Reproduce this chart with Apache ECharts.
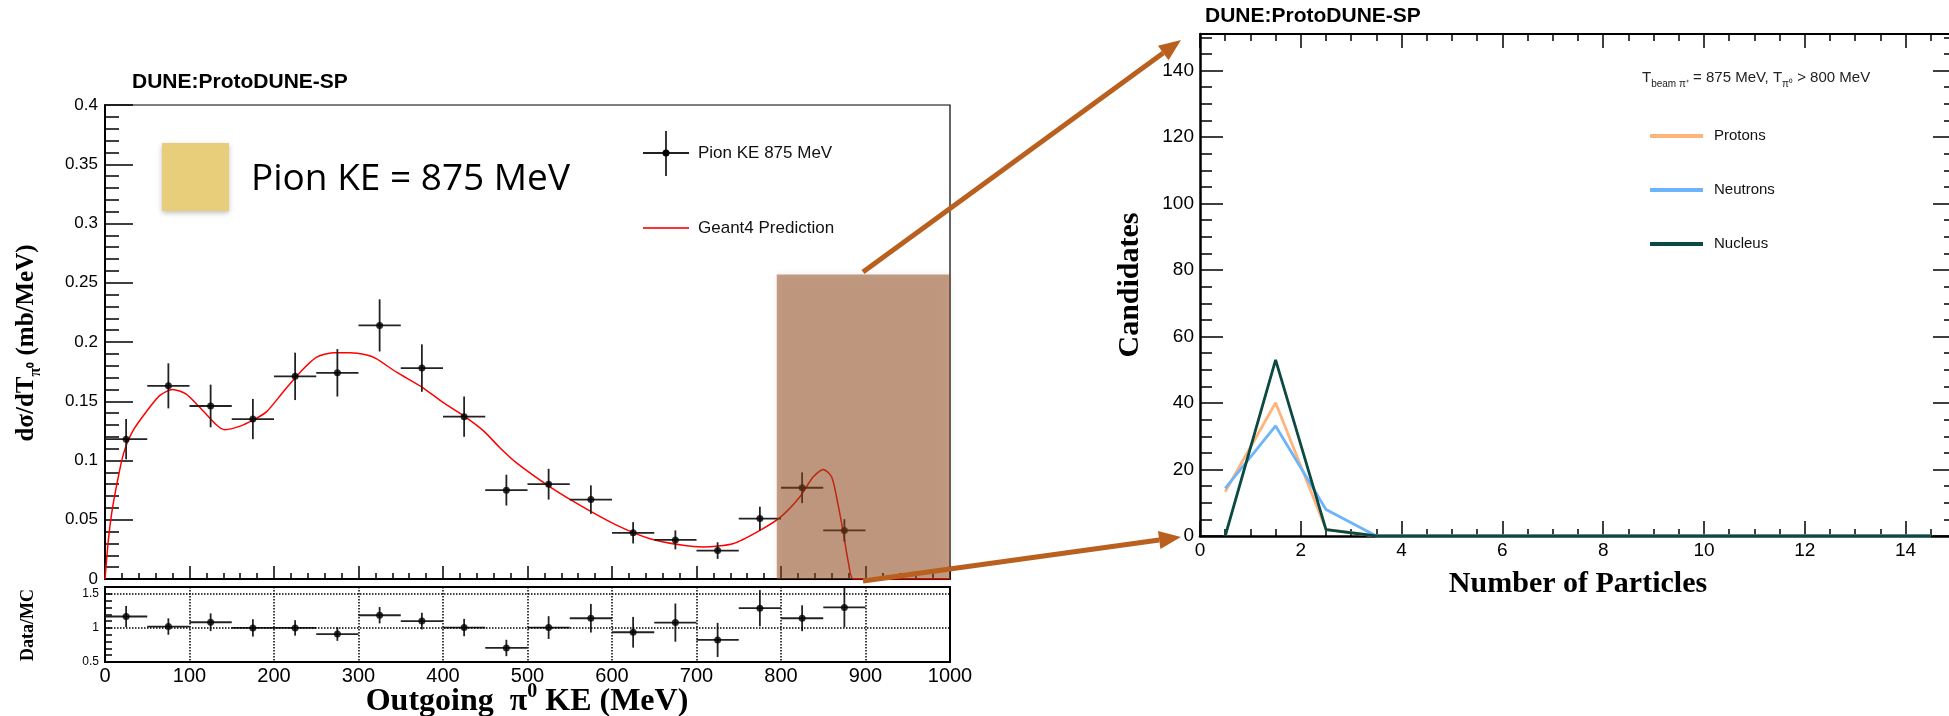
<!DOCTYPE html>
<html>
<head>
<meta charset="utf-8">
<title>ProtoDUNE-SP pi0 KE</title>
<script src="https://cdn.jsdelivr.net/npm/echarts@6.0.0/dist/echarts.min.js"></script>
<style>
  html, body { margin: 0; padding: 0; background: #fff; }
  #main { width: 1949px; height: 716px; }
</style>
</head>
<body>
<div id="main"></div>
<script>
// 左图：截面数据点 (bin 中心, MeV)
var keBins = [25, 75, 125, 175, 225, 275, 325, 375, 425, 475, 525, 575, 625, 675, 725, 775, 825, 875];
var xsecValues = [0.118, 0.163, 0.146, 0.135, 0.171, 0.174, 0.214, 0.178, 0.137, 0.075, 0.080, 0.067, 0.039, 0.033, 0.024, 0.051, 0.077, 0.041];
var xsecErrors = [0.017, 0.019, 0.018, 0.017, 0.020, 0.020, 0.022, 0.020, 0.017, 0.013, 0.013, 0.012, 0.009, 0.008, 0.007, 0.010, 0.013, 0.0095];
var binHalfWidth = 25;

// Geant4 预测曲线
var g4KE = [0, 4, 8, 14, 22, 33, 53, 65, 80, 96, 112, 132, 142, 160, 175, 191, 211, 231, 250, 270, 290, 310, 321, 345, 375, 400, 425, 448, 467, 487, 527, 566, 606, 645, 684, 708, 744, 775, 799, 822, 838, 850, 860, 868, 874, 880, 886, 1000];
var g4Values = [0, 0.033, 0.056, 0.080, 0.106, 0.125, 0.145, 0.155, 0.160, 0.156, 0.145, 0.130, 0.126, 0.129, 0.134, 0.141, 0.158, 0.1745, 0.187, 0.191, 0.191, 0.189, 0.186, 0.1745, 0.162, 0.149, 0.1375, 0.125, 0.111, 0.098, 0.0776, 0.0607, 0.0453, 0.034, 0.0284, 0.027, 0.030, 0.041, 0.052, 0.069, 0.086, 0.0925, 0.086, 0.061, 0.038, 0.013, 0, 0];

// Data/MC
var ratioValues = [1.167, 1.02, 1.083, 1.0, 1.0, 0.91, 1.186, 1.10, 1.005, 0.706, 1.005, 1.142, 0.936, 1.078, 0.824, 1.29, 1.142, 1.30];
var ratioErrors = [0.155, 0.12, 0.13, 0.127, 0.113, 0.10, 0.12, 0.122, 0.127, 0.12, 0.167, 0.21, 0.225, 0.28, 0.25, 0.265, 0.19, 0.29];
var ratioRefLines = [1, 1.5];

// 右图：粒子数分布
var nParticles = [0.5, 1.5, 2.5, 3.5, 4.5, 5.5, 6.5, 7.5, 8.5, 9.5, 10.5, 11.5, 12.5, 13.5, 14.5];
var protonCounts = [13.3, 40.1, 2.0, 0, 0, 0, 0, 0, 0, 0, 0, 0, 0, 0, 0];
var neutronCounts = [14.3, 33.1, 8.0, 0, 0, 0, 0, 0, 0, 0, 0, 0, 0, 0, 0];
var nucleusCounts = [0, 53.0, 1.9, 0, 0, 0, 0, 0, 0, 0, 0, 0, 0, 0, 0];

// 棕色高亮区域 (数据坐标)
var boxKE = [795, 1000];
var boxXsec = [0, 0.257];

var SANS = "'Liberation Sans', Arial, Helvetica, sans-serif";
var SERIF = "'Liberation Serif', 'Times New Roman', serif";
var ARROW = '#b9601f';

function zip(a, b) {
    return a.map(function (v, i) { return [v, b[i]]; });
}

function renderErr(params, api) {
    var x = api.value(0), y = api.value(1), e = api.value(2);
    var l = api.coord([x - binHalfWidth, y]);
    var r = api.coord([x + binHalfWidth, y]);
    var t = api.coord([x, y + e]);
    var b = api.coord([x, y - e]);
    var st = { stroke: '#222', lineWidth: 1.8 };
    return {
        type: 'group',
        children: [
            { type: 'line', shape: { x1: l[0], y1: l[1], x2: r[0], y2: r[1] }, style: st },
            { type: 'line', shape: { x1: t[0], y1: t[1], x2: b[0], y2: b[1] }, style: st }
        ]
    };
}

function arrowShapes(x1, y1, x2, y2) {
    var ang = Math.atan2(y2 - y1, x2 - x1), L = 22, W = 9;
    var bx = x2 - L * Math.cos(ang), by = y2 - L * Math.sin(ang);
    var px = -Math.sin(ang) * W, py = Math.cos(ang) * W;
    return [
        { type: 'line', z: 100, shape: { x1: x1, y1: y1, x2: bx, y2: by }, style: { stroke: ARROW, lineWidth: 5 } },
        { type: 'polygon', z: 100, shape: { points: [[x2, y2], [bx + px, by + py], [bx - px, by - py]] }, style: { fill: ARROW } }
    ];
}

function axisBase(extra) {
    var base = {
        type: 'value',
        axisLine: { show: true, onZero: false, lineStyle: { color: '#000', width: 2 } },
        axisTick: { show: true, inside: true, lineStyle: { color: '#000', width: 1.5 } },
        minorTick: { show: true, lineStyle: { color: '#000', width: 1.5 } },
        axisLabel: { color: '#000', fontFamily: SANS, formatter: function (v) { return String(v); } },
        splitLine: { show: false }
    };
    return echarts.util.merge(base, extra, true);
}

function drawChart() {
    var chartDom = document.getElementById('main');
    var myChart = echarts.init(chartDom);
    var option;

    option = {
        backgroundColor: '#fff',
        animation: false,
        grid: [
            { left: 105, top: 105, width: 845, height: 474, show: true, borderColor: '#000', borderWidth: 1.2, outerBoundsMode: 'none' },
            { left: 105, top: 587, width: 845, height: 75, show: true, borderColor: '#000', borderWidth: 2, outerBoundsMode: 'none' },
            { left: 1200, top: 34, width: 756, height: 502, outerBoundsMode: 'none' }
        ],
        xAxis: [
            axisBase({ gridIndex: 0, min: 0, max: 1000, interval: 100,
                axisTick: { length: 13 }, minorTick: { splitNumber: 5, length: 6 },
                axisLabel: { show: false } }),
            axisBase({ gridIndex: 1, min: 0, max: 1000, interval: 100,
                axisTick: { show: false }, minorTick: { show: false },
                axisLabel: { fontSize: 20, margin: 4 },
                splitLine: { show: true, lineStyle: { type: 'dotted', color: '#000', width: 1.5 } } }),
            axisBase({ gridIndex: 2, min: 0, max: 15, interval: 2,
                axisLine: { lineStyle: { width: 2.5 } },
                axisTick: { length: 15 }, minorTick: { splitNumber: 4, length: 7 },
                axisLabel: { fontSize: 19, margin: 5, showMaxLabel: false } }),
            axisBase({ gridIndex: 2, position: 'top', min: 0, max: 15, interval: 2,
                axisTick: { length: 14 }, minorTick: { splitNumber: 4, length: 7 },
                axisLabel: { show: false } })
        ],
        yAxis: [
            axisBase({ gridIndex: 0, min: 0, max: 0.4, interval: 0.05,
                axisTick: { length: 28 }, minorTick: { splitNumber: 5, length: 14 },
                axisLabel: { fontSize: 17, margin: 7 } }),
            axisBase({ gridIndex: 1, min: 0.5, max: 1.6, interval: 0.1,
                axisTick: { length: 7 }, minorTick: { show: false },
                axisLabel: { fontSize: 12, margin: 6, formatter: function (v) {
                    if (Math.abs(v - 0.5) < 1e-6) return '0.5';
                    if (Math.abs(v - 1) < 1e-6) return '1';
                    if (Math.abs(v - 1.5) < 1e-6) return '1.5';
                    return '';
                } } }),
            axisBase({ gridIndex: 2, min: 0, max: 151, interval: 20,
                axisLine: { lineStyle: { width: 2.5 } },
                axisTick: { length: 23 }, minorTick: { splitNumber: 4, length: 12 },
                axisLabel: { fontSize: 19, margin: 6, showMaxLabel: false } }),
            axisBase({ gridIndex: 2, position: 'right', min: 0, max: 151, interval: 20,
                axisTick: { length: 23 }, minorTick: { splitNumber: 4, length: 12 },
                axisLabel: { show: false } })
        ],
        legend: {
            orient: 'vertical', left: 1645, top: 121,
            itemWidth: 53, itemHeight: 4, itemGap: 34, icon: 'rect',
            selectedMode: false,
            data: ['Protons', 'Neutrons', 'Nucleus'],
            textStyle: { fontSize: 15, fontFamily: SANS, color: '#111', lineHeight: 20, padding: [0, 0, 0, 6] }
        },
        series: [
            {
                name: 'Geant4 Prediction', type: 'line', xAxisIndex: 0, yAxisIndex: 0,
                data: zip(g4KE, g4Values), showSymbol: false, smooth: 0.25,
                lineStyle: { color: '#ff0000', width: 1.5 }, itemStyle: { color: '#ff0000' }, z: 2
            },
            {
                name: 'xsecErr', type: 'custom', xAxisIndex: 0, yAxisIndex: 0,
                data: keBins.map(function (x, i) { return [x, xsecValues[i], xsecErrors[i]]; }),
                renderItem: renderErr, z: 3
            },
            {
                name: 'Pion KE 875 MeV', type: 'scatter', xAxisIndex: 0, yAxisIndex: 0,
                data: zip(keBins, xsecValues), symbolSize: 7, itemStyle: { color: '#000' }, z: 4
            },
            {
                name: 'ratioErr', type: 'custom', xAxisIndex: 1, yAxisIndex: 1,
                data: keBins.map(function (x, i) { return [x, ratioValues[i], ratioErrors[i]]; }),
                renderItem: renderErr, z: 3
            },
            {
                name: 'ratio', type: 'scatter', xAxisIndex: 1, yAxisIndex: 1,
                data: zip(keBins, ratioValues), symbolSize: 7, itemStyle: { color: '#000' }, z: 4,
                markLine: {
                    silent: true, symbol: 'none', label: { show: false },
                    lineStyle: { type: 'dotted', color: '#000', width: 1.5 },
                    data: ratioRefLines.map(function (v) { return { yAxis: v }; })
                }
            },
            {
                name: 'Protons', type: 'line', xAxisIndex: 2, yAxisIndex: 2,
                data: zip(nParticles, protonCounts), showSymbol: false,
                lineStyle: { color: '#fdb57c', width: 2.8 }, itemStyle: { color: '#fdb57c' }
            },
            {
                name: 'Neutrons', type: 'line', xAxisIndex: 2, yAxisIndex: 2,
                data: zip(nParticles, neutronCounts), showSymbol: false,
                lineStyle: { color: '#6db4fc', width: 2.8 }, itemStyle: { color: '#6db4fc' }
            },
            {
                name: 'Nucleus', type: 'line', xAxisIndex: 2, yAxisIndex: 2,
                data: zip(nParticles, nucleusCounts), showSymbol: false,
                lineStyle: { color: '#0b4a42', width: 2.8 }, itemStyle: { color: '#0b4a42' }
            }
        ]
    };

    option && myChart.setOption(option);

    // 高亮框位置通过坐标系换算
    var p0 = myChart.convertToPixel({ gridIndex: 0 }, [boxKE[0], boxXsec[1]]);
    var p1 = myChart.convertToPixel({ gridIndex: 0 }, [boxKE[1], boxXsec[0]]);

    var graphics = [
        { type: 'text', x: 132, y: 82, style: { text: 'DUNE:ProtoDUNE-SP', fontSize: 21, fontWeight: 'bold', fontFamily: SANS, fill: '#000', verticalAlign: 'middle' } },
        { type: 'text', x: 1205, y: 16, style: { text: 'DUNE:ProtoDUNE-SP', fontSize: 21, fontWeight: 'bold', fontFamily: SANS, fill: '#000', verticalAlign: 'middle' } },
        { type: 'rect', x: 162, y: 143, shape: { width: 67, height: 68 }, style: { fill: '#e8cd7b', shadowBlur: 5, shadowColor: 'rgba(0,0,0,0.25)', shadowOffsetY: 2 } },
        { type: 'text', x: 251, y: 179, style: { text: 'Pion KE = 875 MeV', fontSize: 37, fontFamily: "'Open Sans', sans-serif", fill: '#000', verticalAlign: 'middle' } },
        // 左图图例
        { type: 'line', shape: { x1: 643, y1: 153, x2: 689, y2: 153 }, style: { stroke: '#222', lineWidth: 1.8 } },
        { type: 'line', shape: { x1: 666, y1: 131, x2: 666, y2: 176 }, style: { stroke: '#222', lineWidth: 1.8 } },
        { type: 'circle', shape: { cx: 666, cy: 153, r: 3.5 }, style: { fill: '#000' } },
        { type: 'text', x: 698, y: 153, style: { text: 'Pion KE 875 MeV', fontSize: 17, fontFamily: SANS, fill: '#111', verticalAlign: 'middle' } },
        { type: 'line', shape: { x1: 643, y1: 228, x2: 689, y2: 228 }, style: { stroke: '#ff3030', lineWidth: 2 } },
        { type: 'text', x: 698, y: 228, style: { text: 'Geant4 Prediction', fontSize: 17, fontFamily: SANS, fill: '#111', verticalAlign: 'middle' } },
        // 棕色框
        { type: 'rect', z: 90, x: p0[0], y: p0[1], shape: { width: p1[0] - p0[0], height: p1[1] - p0[1] },
          style: { fill: 'rgba(150,72,25,0.52)', shadowBlur: 6, shadowColor: 'rgba(0,0,0,0.15)' } },
        // 坐标轴标题
        { type: 'text', x: 27, y: 343, rotation: Math.PI / 2, style: {
            text: '{m|dσ/dT}{s|π⁰}{m| (mb/MeV)}', align: 'center', verticalAlign: 'middle',
            rich: {
                m: { fontSize: 25, fontWeight: 'bold', fontFamily: SERIF, fill: '#000', lineHeight: 34 },
                s: { fontSize: 16, fontWeight: 'bold', fontFamily: SERIF, fill: '#000', verticalAlign: 'bottom' }
            } } },
        { type: 'text', x: 28, y: 625, rotation: Math.PI / 2, style: { text: 'Data/MC', fontSize: 18, fontWeight: 'bold', fontFamily: SERIF, fill: '#000', align: 'center', verticalAlign: 'middle' } },
        { type: 'text', x: 527, y: 702, style: {
            text: '{m|Outgoing  π}{p|0}{m| KE (MeV)}', align: 'center', verticalAlign: 'middle',
            rich: {
                m: { fontSize: 32, fontWeight: 'bold', fontFamily: SERIF, fill: '#000', lineHeight: 40 },
                p: { fontSize: 20, fontWeight: 'bold', fontFamily: SERIF, fill: '#000', verticalAlign: 'top' }
            } } },
        { type: 'text', x: 1130, y: 285, rotation: Math.PI / 2, style: { text: 'Candidates', fontSize: 30, fontWeight: 'bold', fontFamily: SERIF, fill: '#000', align: 'center', verticalAlign: 'middle' } },
        { type: 'text', x: 1578, y: 584, style: { text: 'Number of Particles', fontSize: 30, fontWeight: 'bold', fontFamily: SERIF, fill: '#000', align: 'center', verticalAlign: 'middle' } },
        { type: 'text', x: 1642, y: 78, style: {
            text: '{m|T}{s|beam π⁺}{m| = 875 MeV, T}{s|π⁰}{m| > 800 MeV}', verticalAlign: 'middle',
            rich: {
                m: { fontSize: 15, fontFamily: SANS, fill: '#222', lineHeight: 22 },
                s: { fontSize: 10, fontFamily: SANS, fill: '#222', verticalAlign: 'bottom' }
            } } }
    ];
    graphics = graphics.concat(arrowShapes(863, 272, 1181, 40), arrowShapes(863, 581, 1181, 537));

    myChart.setOption({ graphic: graphics });
}

drawChart();
</script>
</body>
</html>
